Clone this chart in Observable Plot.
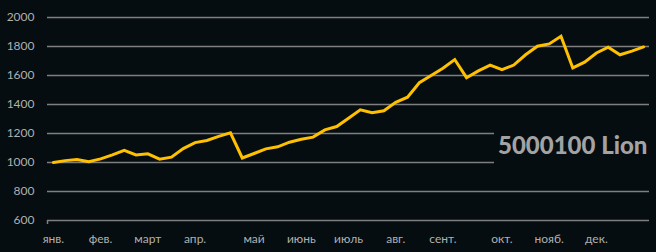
<!DOCTYPE html>
<html>
<head>
<meta charset="utf-8">
<script src="https://cdn.jsdelivr.net/npm/d3@7"></script>
<script src="https://cdn.jsdelivr.net/npm/@observablehq/plot@0.6"></script>
<style>
  html, body { margin: 0; padding: 0; background: #050d10; }
  #wrap { position: relative; width: 656px; height: 252px; }
  #label {
    position: absolute; left: 494px; top: 120px; width: 162px; height: 52px;
    background: #050d10; color: #a3a3a3;
    font-family: Lato, sans-serif; font-weight: 900; font-size: 24px; line-height: 50px; padding-left: 4px; box-sizing: border-box;
  }
</style>
</head>
<body>
<div id="wrap"></div>
<script>
const values = [1000, 1013, 1020, 1005, 1025, 1052, 1083, 1052, 1060, 1023,
  1037, 1096, 1137, 1152, 1180, 1205, 1031, 1062, 1094, 1108,
  1140, 1160, 1175, 1225, 1248, 1305, 1363, 1343, 1357, 1415,
  1450, 1550, 1600, 1650, 1710, 1585, 1632, 1672, 1640, 1672,
  1743, 1802, 1818, 1870, 1652, 1692, 1755, 1795, 1743, 1768, 1797];
const monthIdx = [0, 4, 8, 12, 17, 21, 25, 29, 33, 38, 42, 46];
const monthLabels = ["янв.", "фев.", "март", "апр.", "май", "июнь", "июль", "авг.", "сент.", "окт.", "нояб.", "дек."];
const yTicks = [600, 800, 1000, 1200, 1400, 1600, 1800, 2000];
const title = "5000100 Lion";

const data = values.map((v, i) => ({i, v}));
const labelOf = new Map(monthIdx.map((d, k) => [d, monthLabels[k]]));

const chart = Plot.plot({
  width: 656,
  height: 252,
  marginLeft: 47,
  marginRight: 7,
  marginTop: 17,
  marginBottom: 32,
  style: {background: "#050d10", fontFamily: "Lato, sans-serif", fontSize: "12px", color: "#b0b0b0"},
  x: {domain: [-0.5, values.length - 0.5]},
  y: {domain: [600, 2000]},
  marks: [
    Plot.gridY(yTicks, {stroke: "#7f7f7f", strokeOpacity: 1, strokeWidth: 1.5}),
    Plot.ruleX([-0.5], {y1: 600, y2: 600, insetBottom: -4, stroke: "#7f7f7f", strokeWidth: 1.5}),
    Plot.axisY(yTicks, {tickSize: 0, tickPadding: 13, fill: "#b0b0b0", tickFormat: d => String(d), label: null}),
    Plot.axisX(monthIdx, {tickSize: 0, tickPadding: 14, fill: "#b0b0b0", tickFormat: d => labelOf.get(d), label: null}),
    Plot.line(data, {x: "i", y: "v", stroke: "#ffc000", strokeWidth: 3, strokeLinejoin: "miter", strokeMiterlimit: 4})
  ]
});
const wrap = document.getElementById("wrap");
wrap.appendChild(chart);
const lab = document.createElement("div");
lab.id = "label";
lab.textContent = title;
wrap.appendChild(lab);
</script>
</body>
</html>
